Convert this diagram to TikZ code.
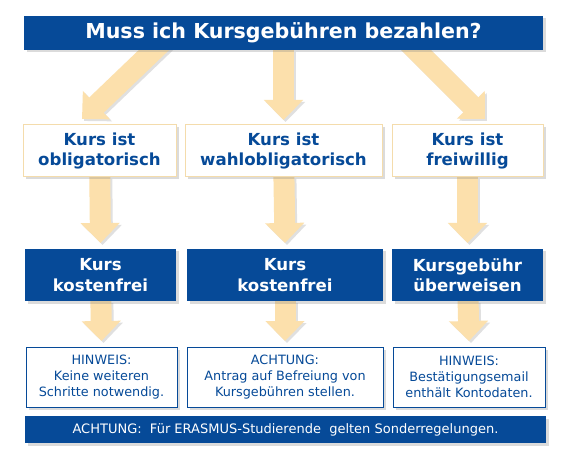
\documentclass[tikz,border=0pt]{standalone}
\usepackage{fontspec}
\setmainfont{DejaVu Sans}
\usetikzlibrary{arrows.meta,shadows,calc,backgrounds}
\definecolor{dblue}{RGB}{6,74,152}
\definecolor{peach}{RGB}{252,224,172}
\definecolor{peachline}{RGB}{244,220,172}
\definecolor{arrshadow}{RGB}{224,224,224}
\begin{document}
\begin{tikzpicture}[x=1pt,y=-1pt,
  box/.style={inner sep=0pt, outer sep=0pt, align=center,
    drop shadow={shadow xshift=2.5pt,shadow yshift=-2.5pt,opacity=0.28}},
  titlebox/.style={box, fill=dblue, text=white, font=\bfseries\fontsize{20.6}{24}\selectfont},
  bluebox/.style={box, fill=dblue, text=white, font=\bfseries\fontsize{16.6}{20.5}\selectfont},
  lightbox/.style={box, fill=white, draw=peachline, line width=1pt, text=dblue, font=\bfseries\fontsize{16.6}{20.5}\selectfont},
  notebox/.style={box, fill=white, draw=dblue, line width=0.8pt, text=dblue, font=\fontsize{12.8}{16}\selectfont},
  barbox/.style={box, fill=dblue, text=white, font=\fontsize{13}{16}\selectfont},
  fat/.style={line width=21pt, draw=peach, -{Triangle[width=38pt,length=20pt]}},
  fatshadow/.style={line width=21pt, draw=arrshadow, -{Triangle[width=38pt,length=20pt]}, transform canvas={shift={(2pt,-2pt)}}}
]
\useasboundingbox (0,0) rectangle (567,454);
% nodes
\node[titlebox, minimum width=519pt, minimum height=34pt] (title) at (283.5,33) {Muss ich Kursgebühren bezahlen?};

\node[lightbox, minimum width=153pt, minimum height=52pt] (r2a) at (99.5,151) {Kurs ist\\obligatorisch};
\node[lightbox, minimum width=197pt, minimum height=52pt] (r2b) at (283.5,151) {Kurs ist\\wahlobligatorisch};
\node[lightbox, minimum width=151pt, minimum height=52pt] (r2c) at (467.5,151) {Kurs ist\\freiwillig};

\node[bluebox, minimum width=151pt, minimum height=52pt] (r3a) at (100.5,275) {Kurs\\kostenfrei};
\node[bluebox, minimum width=196pt, minimum height=52pt] (r3b) at (285,275) {Kurs\\kostenfrei};
\node[bluebox, minimum width=151pt, minimum height=52pt] (r3c) at (467.5,275) {Kursgebühr\\überweisen};

\node[notebox, minimum width=151pt, minimum height=60pt] (r4a) at (101.5,377) {HINWEIS:\\Keine weiteren\\Schritte notwendig.};
\node[notebox, minimum width=196pt, minimum height=60pt] (r4b) at (285,377) {ACHTUNG:\\Antrag auf Befreiung von\\Kursgebühren stellen.};
\node[notebox, minimum width=152pt, minimum height=60pt] (r4c) at (469,377) {HINWEIS:\\Bestätigungsemail\\enthält Kontodaten.};

\node[barbox, minimum width=521pt, minimum height=27pt] (bar) at (285.5,429.5) {ACHTUNG:\ \ Für ERASMUS-Studierende\ \ gelten Sonderregelungen.};

\coordinate (s1) at (164.4,40);
\coordinate (t1) at (82,119);
\coordinate (s3) at (406,40);
\coordinate (t3) at (485,119);

\begin{scope}[on background layer]
  \fill[white] (0,0) rectangle (567,454);
  % shadows of arrows
  \draw[fatshadow] (s1) -- (t1);
  \draw[fatshadow] (title) -- ($(r2b.north)+(0,-5)$);
  \draw[fatshadow] (s3) -- (t3);
  \draw[fatshadow] (r2a) -- ($(r3a.north)+(0,-6)$);
  \draw[fatshadow] (r2b) -- ($(r3b.north)+(0,-6)$);
  \draw[fatshadow] (r2c) -- ($(r3c.north)+(0,-6)$);
  \draw[fatshadow] (r3a) -- ($(r4a.north)+(0,-6)$);
  \draw[fatshadow] (r3b) -- ($(r4b.north)+(0,-6)$);
  \draw[fatshadow] (r3c) -- ($(r4c.north)+(0,-6)$);
  % arrows
  \draw[fat] (s1) -- (t1);
  \draw[fat] (title) -- ($(r2b.north)+(0,-5)$);
  \draw[fat] (s3) -- (t3);
  \draw[fat] (r2a) -- ($(r3a.north)+(0,-6)$);
  \draw[fat] (r2b) -- ($(r3b.north)+(0,-6)$);
  \draw[fat] (r2c) -- ($(r3c.north)+(0,-6)$);
  \draw[fat] (r3a) -- ($(r4a.north)+(0,-6)$);
  \draw[fat] (r3b) -- ($(r4b.north)+(0,-6)$);
  \draw[fat] (r3c) -- ($(r4c.north)+(0,-6)$);
\end{scope}
\end{tikzpicture}
\end{document}
